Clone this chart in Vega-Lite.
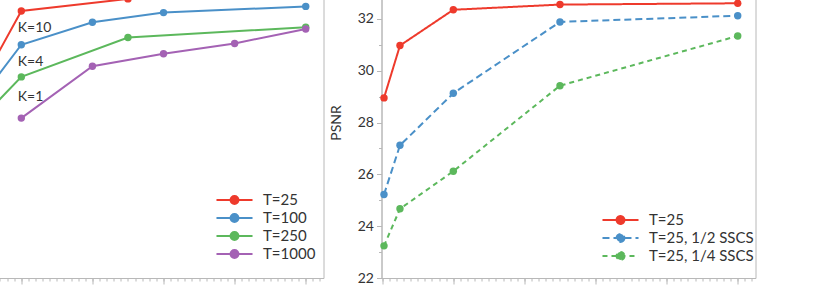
{
  "$schema": "https://vega.github.io/schema/vega-lite/v6.json",
  "padding": {"left": -51.5, "top": -34, "right": 0, "bottom": 0},
  "spacing": 4,
  "resolve": {"scale": {"color": "independent", "strokeDash": "independent"}, "legend": {"color": "independent", "strokeDash": "independent"}},
  "config": {
    "font": "Lato",
    "view": {"stroke": "#b8b8b8", "strokeWidth": 1},
    "axis": {"domainColor": "#b8b8b8", "tickColor": "#b8b8b8", "labelColor": "#333333", "labelFontSize": 14, "titleFontSize": 14, "titleFontWeight": "normal", "titleColor": "#333333", "grid": false, "labelFont": "Lato", "titleFont": "Lato"},
    "legend": {"labelFont": "Lato", "labelColor": "#333333"}
  },
  "datasets": {
    "left": [
      {"iter": 250, "psnr": 28.57, "series": "T=25"},
      {"iter": 1000, "psnr": 32.30, "series": "T=25"},
      {"iter": 2500, "psnr": 32.77, "series": "T=25"},
      {"iter": 5000, "psnr": 32.95, "series": "T=25"},
      {"iter": 250, "psnr": 28.29, "series": "T=100"},
      {"iter": 1000, "psnr": 31.0, "series": "T=100"},
      {"iter": 2000, "psnr": 31.87, "series": "T=100"},
      {"iter": 3000, "psnr": 32.24, "series": "T=100"},
      {"iter": 5000, "psnr": 32.48, "series": "T=100"},
      {"iter": 250, "psnr": 27.63, "series": "T=250"},
      {"iter": 1000, "psnr": 29.76, "series": "T=250"},
      {"iter": 2500, "psnr": 31.28, "series": "T=250"},
      {"iter": 5000, "psnr": 31.68, "series": "T=250"},
      {"iter": 1000, "psnr": 28.17, "series": "T=1000"},
      {"iter": 2000, "psnr": 30.17, "series": "T=1000"},
      {"iter": 3000, "psnr": 30.65, "series": "T=1000"},
      {"iter": 4000, "psnr": 31.05, "series": "T=1000"},
      {"iter": 5000, "psnr": 31.61, "series": "T=1000"}
    ],
    "klabels": [
      {"label": "K=10", "iter": 950, "psnr": 31.65},
      {"label": "K=4", "iter": 950, "psnr": 30.34},
      {"label": "K=1", "iter": 950, "psnr": 28.98}
    ],
    "right": [
      {"iter": 25, "psnr": 28.95, "series": "T=25"},
      {"iter": 250, "psnr": 30.97, "series": "T=25"},
      {"iter": 1000, "psnr": 32.35, "series": "T=25"},
      {"iter": 2500, "psnr": 32.55, "series": "T=25"},
      {"iter": 5000, "psnr": 32.6, "series": "T=25"},
      {"iter": 25, "psnr": 25.22, "series": "T=25, 1/2 SSCS"},
      {"iter": 250, "psnr": 27.12, "series": "T=25, 1/2 SSCS"},
      {"iter": 1000, "psnr": 29.13, "series": "T=25, 1/2 SSCS"},
      {"iter": 2500, "psnr": 31.88, "series": "T=25, 1/2 SSCS"},
      {"iter": 5000, "psnr": 32.12, "series": "T=25, 1/2 SSCS"},
      {"iter": 25, "psnr": 23.24, "series": "T=25, 1/4 SSCS"},
      {"iter": 250, "psnr": 24.67, "series": "T=25, 1/4 SSCS"},
      {"iter": 1000, "psnr": 26.12, "series": "T=25, 1/4 SSCS"},
      {"iter": 2500, "psnr": 29.42, "series": "T=25, 1/4 SSCS"},
      {"iter": 5000, "psnr": 31.34, "series": "T=25, 1/4 SSCS"}
    ]
  },
  "hconcat": [
    {
      "width": 374,
      "height": 311,
      "layer": [
        {
          "data": {"name": "left"},
          "mark": {"type": "line", "strokeWidth": 2},
          "encoding": {
            "x": {"field": "iter", "type": "quantitative", "scale": {"domain": [-10, 5250], "nice": false}, "axis": {"orient": "bottom", "values": [0, 1000, 2000, 3000, 4000, 5000], "tickSize": 6, "title": null, "format": "d", "labelPadding": 3}},
            "y": {"field": "psnr", "type": "quantitative", "scale": {"domain": [22, 34], "nice": false, "zero": false}, "axis": null},
            "color": {"field": "series", "type": "nominal", "scale": {"domain": ["T=25", "T=100", "T=250", "T=1000"], "range": ["#ee3a2c", "#4a90c8", "#5cb85c", "#a462b4"]},
              "legend": {"orient": "none", "legendX": 275, "legendY": 223, "title": null, "padding": 0, "symbolType": "M-2.06,0H2.06M0.45,0A0.45,0.45,0,1,1,-0.45,0A0.45,0.45,0,1,1,0.45,0Z", "symbolSize": 306, "symbolStrokeWidth": 2, "labelFontSize": 15, "labelOffset": 18.5, "rowPadding": 0,
                "encode": {"symbols": {"update": {"fill": {"signal": "datum.value === 'T=25' ? '#ee3a2c' : datum.value === 'T=100' ? '#4a90c8' : datum.value === 'T=250' ? '#5cb85c' : '#a462b4'"}, "opacity": {"value": 1}}}}}}
          }
        },
        {
          "data": {"name": "left"},
          "mark": {"type": "point", "filled": true, "size": 55, "opacity": 1},
          "encoding": {
            "x": {"field": "iter", "type": "quantitative", "scale": {"domain": [-10, 5250], "nice": false}, "axis": {"orient": "bottom", "values": [0,100,200,300,400,500,600,700,800,900,1000,1100,1200,1300,1400,1500,1600,1700,1800,1900,2000,2100,2200,2300,2400,2500,2600,2700,2800,2900,3000,3100,3200,3300,3400,3500,3600,3700,3800,3900,4000,4100,4200,4300,4400,4500,4600,4700,4800,4900,5000,5100,5200], "tickSize": 3, "labels": false, "domain": false, "title": null}},
            "y": {"field": "psnr", "type": "quantitative", "scale": {"domain": [22, 34], "nice": false, "zero": false}, "axis": null},
            "color": {"field": "series", "type": "nominal", "legend": null}
          }
        },
        {
          "data": {"name": "klabels"},
          "mark": {"type": "text", "align": "left", "baseline": "middle", "fontSize": 14, "color": "#333333", "font": "Lato"},
          "encoding": {
            "x": {"field": "iter", "type": "quantitative", "axis": null},
            "y": {"field": "psnr", "type": "quantitative", "axis": null},
            "text": {"field": "label"}
          }
        }
      ],
      "resolve": {"axis": {"x": "independent", "y": "independent"}}
    },
    {
      "width": 374,
      "height": 311,
      "data": {"name": "right"},
      "layer": [
        {
          "mark": {"type": "line", "strokeWidth": 2},
          "encoding": {
            "x": {"field": "iter", "type": "quantitative", "scale": {"domain": [-10, 5250], "nice": false}, "axis": {"orient": "bottom", "values": [0, 1000, 2000, 3000, 4000, 5000], "tickSize": 6, "title": null, "format": "d", "labelPadding": 3}},
            "y": {"field": "psnr", "type": "quantitative", "scale": {"domain": [22, 34], "nice": false, "zero": false}, "axis": {"orient": "left", "values": [22, 24, 26, 28, 30, 32], "tickSize": 5, "title": "PSNR", "titlePadding": 14, "labelPadding": 3, "titleFontWeight": "normal"}},
            "color": {"field": "series", "type": "nominal", "scale": {"domain": ["T=25", "T=25, 1/2 SSCS", "T=25, 1/4 SSCS"], "range": ["#ee3a2c", "#4a90c8", "#5cb85c"]},
              "legend": {"orient": "none", "legendX": 229, "legendY": 243, "title": null, "padding": 0, "symbolType": "M-2.06,0H2.06M0.45,0A0.45,0.45,0,1,1,-0.45,0A0.45,0.45,0,1,1,0.45,0Z", "symbolSize": 306, "symbolStrokeWidth": 2, "labelFontSize": 15, "labelOffset": 18.5, "rowPadding": 0,
                "encode": {"symbols": {"update": {"fill": {"signal": "datum.value === 'T=25' ? '#ee3a2c' : datum.value === 'T=25, 1/2 SSCS' ? '#4a90c8' : '#5cb85c'"}, "strokeDash": {"signal": "datum.value === 'T=25' ? [1, 0] : datum.value === 'T=25, 1/2 SSCS' ? [6, 3] : [4, 3]"}, "opacity": {"value": 1}}}}}},
            "strokeDash": {"field": "series", "type": "nominal", "scale": {"domain": ["T=25", "T=25, 1/2 SSCS", "T=25, 1/4 SSCS"], "range": [[1, 0], [7, 4], [5, 4]]}, "legend": null}
          }
        },
        {
          "mark": {"type": "point", "filled": true, "size": 55, "opacity": 1},
          "encoding": {
            "x": {"field": "iter", "type": "quantitative", "scale": {"domain": [-10, 5250], "nice": false}, "axis": {"orient": "bottom", "values": [0,100,200,300,400,500,600,700,800,900,1000,1100,1200,1300,1400,1500,1600,1700,1800,1900,2000,2100,2200,2300,2400,2500,2600,2700,2800,2900,3000,3100,3200,3300,3400,3500,3600,3700,3800,3900,4000,4100,4200,4300,4400,4500,4600,4700,4800,4900,5000,5100,5200], "tickSize": 3, "labels": false, "domain": false, "title": null}},
            "y": {"field": "psnr", "type": "quantitative", "scale": {"domain": [22, 34], "nice": false, "zero": false}, "axis": {"orient": "left", "values": [23, 25, 27, 29, 31, 33], "tickSize": 3, "labels": false, "domain": false, "title": null}},
            "color": {"field": "series", "type": "nominal", "legend": null}
          }
        }
      ],
      "resolve": {"axis": {"x": "independent", "y": "independent"}}
    }
  ]
}
